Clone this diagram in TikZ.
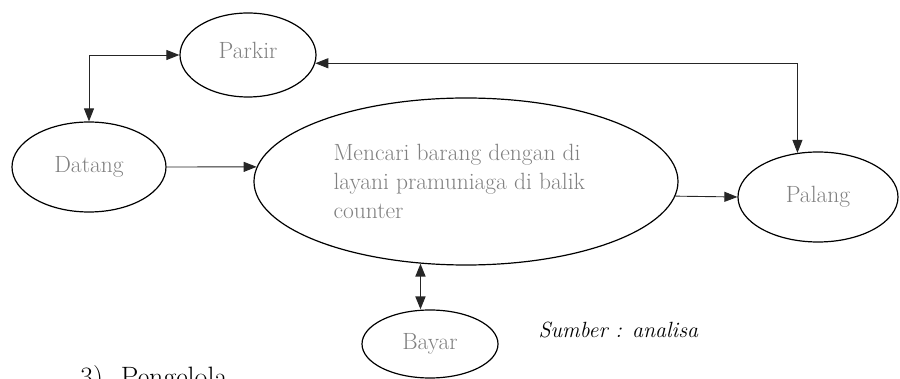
\documentclass[tikz,border=0pt]{standalone}
\usetikzlibrary{shapes.geometric,arrows.meta}

\begin{document}
\begin{tikzpicture}[x=1pt,y=-1pt,
  proc/.style={draw=black,line width=1.2pt,ellipse,inner sep=0pt,
    text=black!50,font=\fontsize{23.5}{29}\selectfont},
  link/.style={draw=black!85,line width=0.9pt},
  tip/.style={-{Triangle[length=13pt,width=10pt]}},
  tips/.style={{Triangle[length=13pt,width=10pt]}-{Triangle[length=13pt,width=10pt]}}
]
\useasboundingbox (0,0) rectangle (900,379);

% activity ellipses
\node[proc,minimum width=136pt,minimum height=84pt] (parkir) at (248,55)
  {\raisebox{9pt}{Parkir}};
\node[proc,minimum width=154pt,minimum height=90pt] (datang) at (89,167)
  {\raisebox{3pt}{Datang}};
\node[proc,minimum width=424pt,minimum height=167pt] (cari) at (466,181.5)
  {\raisebox{6pt}{\parbox{265pt}{\raggedright Mencari barang dengan di
   layani pramuniaga di balik counter}}};
\node[proc,minimum width=160pt,minimum height=90pt] (palang) at (818,197)
  {\raisebox{6pt}{Palang}};
\node[proc,minimum width=136pt,minimum height=68pt] (bayar) at (430,344)
  {\raisebox{4pt}{Bayar}};

% connectors
\draw[link,tips] (datang.north) |- (parkir.west);
\draw[link,tips] (parkir.-7) -| (palang.115);
\draw[link,tip] (datang.east) -- (cari.176);
\draw[link,tip] (cari.-4.3) -- (palang.west);
\draw[link,tips,line width=1.8pt] (cari.241.7) -- (cari.241.7 |- bayar.north);

% captions
\node[anchor=base west,font=\fontsize{22}{27}\selectfont\itshape] (sumber)
  at (535,338) {Sumber : analisa};
\node[anchor=base west,font=\fontsize{28}{32}\selectfont,inner sep=0pt] (judul)
  at (80,387) {3)\hspace{18pt}Pengelola};
\end{tikzpicture}
\end{document}
